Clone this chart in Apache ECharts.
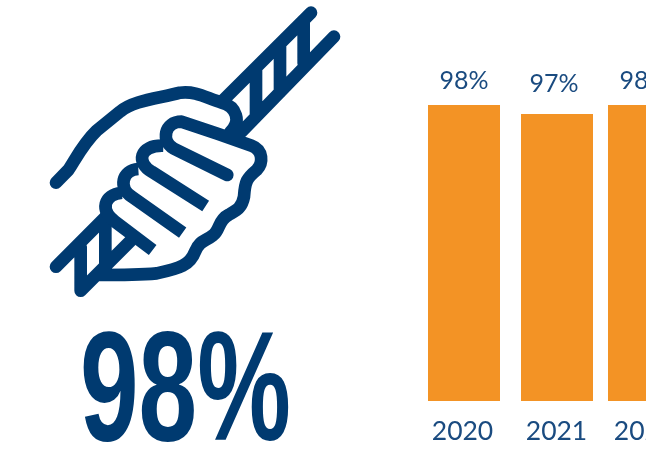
<!DOCTYPE html>
<html><head><meta charset="utf-8">
<style>html,body{margin:0;padding:0;background:#fff;overflow:hidden}#c{width:646px;height:455px}</style>
<script src="https://cdn.jsdelivr.net/npm/echarts@6/dist/echarts.min.js"></script>
</head><body><div id="c"></div>
<script>
const years = ['2020','2021','2022'];
const outerValues = [98, null, 98];
const middleValues = [null, 97, null];
const headline = '98%';
const navy = '#003a70', textBlue = '#1a4b80', orange = '#f39325';

const iconRound = [
 'M813 38 L545 305', 'M193 655 L48 800',
 'M882 110 L605 395', 'M272 722 L122 872',
 'M791 60 L791 190', 'M720 131 L720 277', 'M648 203 L648 350',
 'M122 740 L122 872', 'M196 650 L196 800',
 'M48 548 L85 510 C105 480 130 430 170 392 L240 335 C280 300 360 295 420 278 C470 272 500 295 545 308 C590 320 605 365 570 397',
 'M562 525 L400 445 C365 425 370 365 425 365 L535 402 L635 437 C670 450 670 490 650 510 C620 535 615 545 612 590 C605 625 590 630 565 645 C535 660 540 690 520 705 C495 725 480 720 465 755 C450 795 420 805 350 820 C290 825 230 825 175 825'
].join(' ');
const iconButt = [
 'M497 618 L335 515 C290 490 295 435 370 437',
 'M428 698 L275 590 C235 565 245 510 295 507',
 'M338 750 L225 665 C180 630 190 585 245 578'
].join(' ');

echarts.graphic.registerShape('handRound', echarts.graphic.extendPath(iconRound, {}));
echarts.graphic.registerShape('handButt', echarts.graphic.extendPath(iconButt, {}));

function barSeries(values, labelOffset) {
  return {
    type: 'bar', data: values, barWidth: 72, barGap: '-95.83%',
    itemStyle: { color: orange },
    label: { show: true, position: 'top', distance: 12, formatter: p => p.value + '%',
      fontFamily: 'Lato', fontWeight: 400, fontSize: 25, color: textBlue, offset: labelOffset }
  };
}
const yearFont = { fontFamily: 'Lato', fontWeight: 400, fontSize: 26.5, color: textBlue };

const chart = echarts.init(document.getElementById('c'));
chart.setOption({
  animation: false,
  backgroundColor: '#fff',
  grid: { left: 420.5, top: 105, width: 270, height: 296, outerBoundsMode: 'none', containLabel: false },
  xAxis: { type: 'category', data: years,
    axisLine: { show: false }, axisTick: { show: false },
    axisLabel: { margin: 17, interval: 0, ...yearFont,
      formatter: (v, i) => `{y${i}|${v}}`,
      rich: {
        y0: { ...yearFont, padding: [0, 6, 0, 0] },
        y1: { ...yearFont, padding: [0, 0, 0, 2] },
        y2: { ...yearFont, padding: [0, 2, 0, 0] }
      } } },
  yAxis: { type: 'value', min: 65, max: 98, show: false },
  series: [ barSeries(outerValues, [0, 0]), barSeries(middleValues, [-3, -6]) ],
  graphic: [
    { type: 'handRound', x: 40, y: 0, scaleX: 1/3, scaleY: 1/3,
      style: { fill: null, stroke: navy, lineWidth: 38, lineCap: 'round', lineJoin: 'round' } },
    { type: 'handButt', x: 40, y: 0, scaleX: 1/3, scaleY: 1/3,
      style: { fill: null, stroke: navy, lineWidth: 38, lineCap: 'butt', lineJoin: 'round' } },
    { type: 'text', x: 80, y: 475, scaleX: 0.68, scaleY: 1,
      style: { text: headline, fill: navy, fontFamily: 'Liberation Sans', fontWeight: 'bold', fontSize: 155,
        textAlign: 'left', textVerticalAlign: 'bottom' } }
  ]
});
</script></body></html>
